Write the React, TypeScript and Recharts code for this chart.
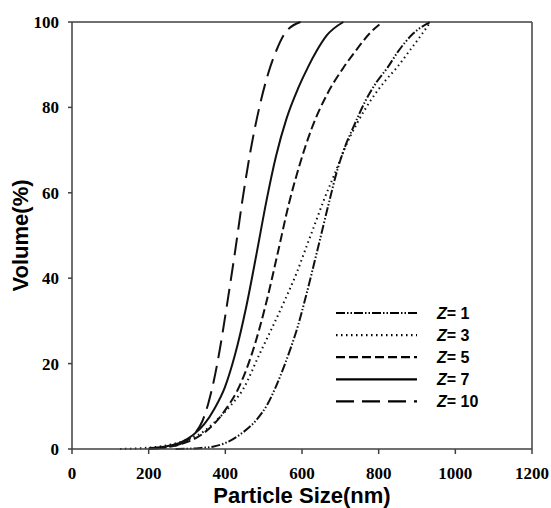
import { LineChart, Line, XAxis, YAxis, ReferenceLine, Legend } from "recharts";

const xTicks = [0, 200, 400, 600, 800, 1000, 1200];
const yTicks = [0, 20, 40, 60, 80, 100];

// Z = 1 (dash-dot-dot)
const z1Size = [270, 330, 370, 400, 440, 481, 510, 530, 550, 570, 590, 608, 640, 672, 692, 709, 737, 766, 795, 823, 850, 890, 935];
const z1Vol = [0, 0.2, 0.6, 1.4, 3.5, 6.8, 10.5, 14.2, 18.6, 23.5, 29, 35, 46.5, 58.3, 65.3, 70, 76, 81.6, 86, 89.3, 93, 97.3, 100];

// Z = 3 (dotted)
const z3Size = [125, 180, 230, 270, 310, 345, 380, 415, 445, 490, 520, 556, 585, 610, 635, 657, 690, 709, 745, 779, 815, 849, 880, 910, 935];
const z3Vol = [0, 0.2, 0.6, 1.3, 2.5, 4.2, 7, 10.3, 13.8, 22.4, 28, 35, 41, 47, 53, 58.3, 65.5, 69.9, 76.5, 81.6, 86, 89.5, 93.2, 96.8, 100];

// Z = 5 (short dash)
const z5Size = [220, 270, 305, 340, 375, 405, 433, 470, 506, 537, 566, 592, 625, 665, 708, 743, 775, 810];
const z5Vol = [0.2, 0.8, 1.8, 3.5, 6.3, 9.8, 14, 22.5, 34, 46, 57.5, 66, 75, 83, 89.3, 93.6, 97.2, 100];

// Z = 7 (solid)
const z7Size = [200, 250, 285, 315, 345, 372, 399, 425, 455, 482, 507, 532, 560, 590, 616, 638, 664, 708];
const z7Vol = [0.2, 0.7, 1.6, 3.2, 5.8, 9.5, 14.5, 22, 33.5, 46, 58, 68.5, 77.5, 84.5, 89.5, 93.2, 96.8, 100];

// Z = 10 (long dash)
const z10Size = [200, 240, 270, 300, 320, 340, 355, 370, 385, 403, 425, 445, 465, 490, 512, 534, 555, 596];
const z10Vol = [0, 0.3, 0.8, 2, 3.6, 6.5, 10.5, 16, 23, 33, 46, 58.5, 69.5, 80.5, 88, 93.5, 97.3, 100];

const rows = (s: number[], v: number[]) => s.map((x, i) => ({ size: x, vol: v[i] }));

const SERIES = [
  { name: "1", data: rows(z1Size, z1Vol), dash: "9 2 1.5 2 1.5 2" },
  { name: "3", data: rows(z3Size, z3Vol), dash: "1.5 3.5" },
  { name: "5", data: rows(z5Size, z5Vol), dash: "9 4" },
  { name: "7", data: rows(z7Size, z7Vol), dash: undefined },
  { name: "10", data: rows(z10Size, z10Vol), dash: "18 8" },
];

const AX = "#404040";
const SANS = '"Liberation Sans", Arial, sans-serif';
const SERIF = '"Liberation Serif", "Times New Roman", serif';
const TICK = { fontSize: 17, fontWeight: "bold", fontFamily: SERIF, fill: "#000" };

function LegendBox() {
  return (
    <svg width={180} height={115}>
      {SERIES.map((s, i) => {
        const y = 13 + i * 22.1;
        return (
          <g key={s.name}>
            <line x1={6} x2={87} y1={y} y2={y} stroke="#000" strokeWidth={2.2} strokeDasharray={s.dash} />
            <text x={107} y={y + 6} fontFamily={SANS} fontSize={16} fontWeight="bold" fill="#000">
              <tspan fontStyle="italic">Z</tspan>
              <tspan>{"= " + s.name}</tspan>
            </text>
          </g>
        );
      })}
    </svg>
  );
}

export default function App() {
  return (
    <div style={{ position: "absolute", left: 0, top: 0, background: "#fff" }}>
      <LineChart width={551} height={508} margin={{ top: 22, right: 19, bottom: 0, left: 0 }}>
        <XAxis
          dataKey="size" type="number" domain={[0, 1200]} ticks={xTicks} interval={0}
          height={59} tickSize={5} tickMargin={13} tick={TICK}
          axisLine={{ stroke: AX, strokeWidth: 1.5 }} tickLine={{ stroke: AX, strokeWidth: 1.5 }}
          label={{ value: "Particle Size(nm)", position: "insideBottom", offset: 5, fill: "#000", fontSize: 22, fontWeight: "bold", fontFamily: SANS }}
        />
        <YAxis
          dataKey="vol" type="number" domain={[0, 100]} ticks={yTicks} interval={0}
          width={72} tickSize={4} tickMargin={9} tick={TICK}
          axisLine={{ stroke: AX, strokeWidth: 1.5 }} tickLine={{ stroke: AX, strokeWidth: 1.5 }}
          label={{ value: "Volume(%)", angle: -90, position: "insideLeft", offset: 20, fill: "#000", fontSize: 22, fontWeight: "bold", fontFamily: SANS, style: { textAnchor: "middle" } }}
        />
        <ReferenceLine y={100} stroke={AX} strokeWidth={1.5} />
        <ReferenceLine x={1200} stroke={AX} strokeWidth={1.5} />
        {SERIES.map((s) => (
          <Line
            key={s.name} data={s.data} dataKey="vol" name={"Z= " + s.name} type="monotone"
            stroke="#111" strokeWidth={2} strokeDasharray={s.dash} dot={false} activeDot={false}
            isAnimationActive={false}
          />
        ))}
        <Legend
          layout="vertical" align="center" verticalAlign="middle"
          wrapperStyle={{ left: 330, top: 300, width: 180 }}
          content={() => <LegendBox />}
        />
      </LineChart>
    </div>
  );
}
